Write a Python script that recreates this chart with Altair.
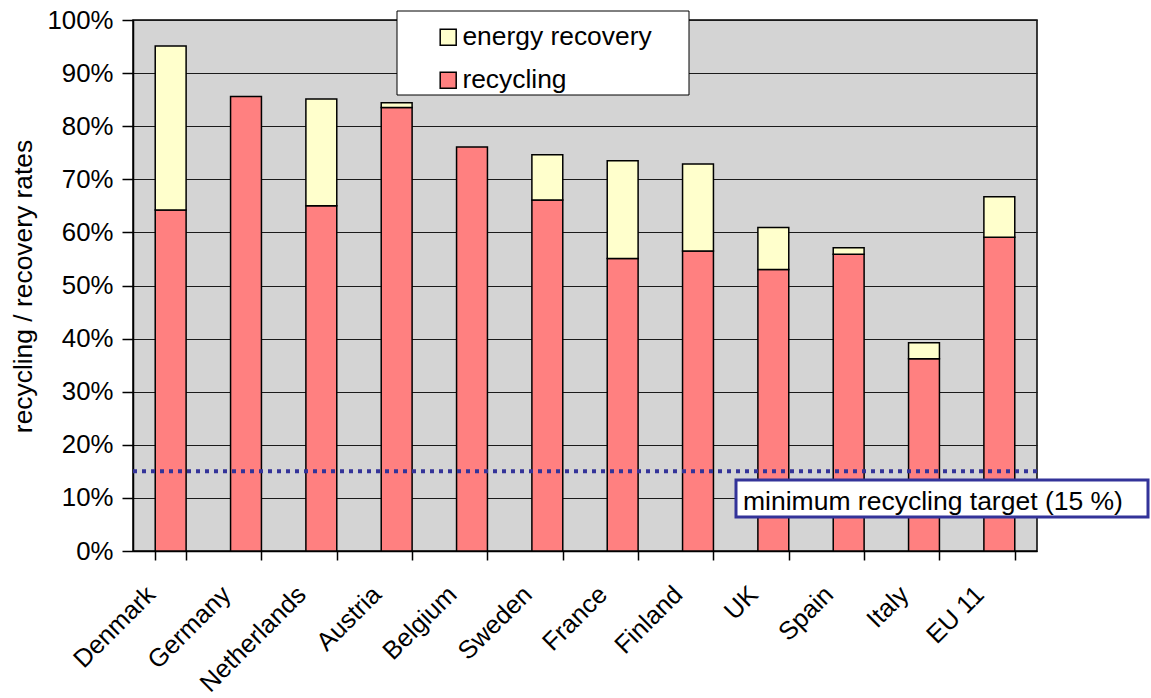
import altair as alt
import pandas as pd

# Packaging recovery shares by country, in percent
countries = ["Denmark", "Germany", "Netherlands", "Austria", "Belgium", "Sweden",
             "France", "Finland", "UK", "Spain", "Italy", "EU 11"]
recycling = [64.2, 85.6, 65.0, 83.5, 76.1, 66.1, 55.1, 56.5, 53.0, 55.9, 36.2, 59.1]
energy_recovery = [30.9, 0.0, 20.1, 0.9, 0.0, 8.5, 18.4, 16.4, 7.9, 1.2, 3.0, 7.6]
series = ["energy recovery", "recycling"]
series_colors = ["#ffffcc", "#ff8080"]
target = [15]
target_label = "minimum recycling target (15 %)"
y_ticks = list(range(0, 101, 10))

rows = []
for c, r, e in zip(countries, recycling, energy_recovery):
    rows.append({"country": c, "type": "recycling", "rate": r, "ord": 0})
    if e > 0:
        rows.append({"country": c, "type": "energy recovery", "rate": e, "ord": 1})
df = pd.DataFrame(rows)

FONT = "Liberation Sans"
W, H = 904, 531

bars = alt.Chart(df).mark_bar(stroke="black", strokeWidth=1.5).encode(
    x=alt.X(
        "country:N", sort=countries, title=None,
        scale=alt.Scale(paddingInner=0.59, paddingOuter=0.295),
        axis=alt.Axis(
            labelAngle=315, labelAlign="right", labelBaseline="middle",
            labelFontSize=25.5, labelColor="black", labelPadding=30, labelOffset=-20,
            tickBand="extent", tickSize=9, tickColor="black", tickWidth=1.5,
            domainColor="black", domainWidth=1.5, grid=False,
        ),
    ),
    y=alt.Y(
        "rate:Q", stack="zero",
        scale=alt.Scale(domain=[0, 100], nice=False),
        axis=alt.Axis(
            values=y_ticks, labelExpr="datum.value + '%'",
            labelFontSize=25.8, labelColor="black", labelPadding=9,
            tickSize=11, tickColor="black", tickWidth=1.5,
            domainColor="black", domainWidth=1.5,
            grid=True, gridColor="#1a1a1a", gridWidth=1,
            title="recycling / recovery rates", titleFontSize=26.4,
            titleFontWeight="normal", titleColor="black",
            titleX=-110, titleY=266, titleAngle=270,
            titleAlign="center", titleBaseline="middle",
        ),
    ),
    color=alt.Color(
        "type:N",
        scale=alt.Scale(domain=series, range=series_colors),
        legend=alt.Legend(
            title=None, orient="none", legendX=302, legendY=4, padding=0,
            symbolType="square", symbolSize=256, symbolStrokeColor="black",
            symbolStrokeWidth=1.5, labelFontSize=26.4, labelColor="black",
            labelOffset=1, rowPadding=16, labelLimit=400, zindex=1,
        ),
    ),
    order=alt.Order("ord:Q"),
)

target_df = pd.DataFrame({"target": target, "label": [target_label]})

target_line = alt.Chart(target_df).mark_rule(
    color="#333399", strokeWidth=4, strokeDash=[4, 5]
).encode(y="target:Q")

legend_frame = alt.Chart(target_df).mark_rect(
    fill="white", stroke="black", strokeWidth=1
).encode(x=alt.value(264), x2=alt.value(556), y=alt.value(-9), y2=alt.value(75))

note_fill = alt.Chart(target_df).mark_rect(fill="white").encode(
    x=alt.value(603), x2=alt.value(1015), y=alt.value(460), y2=alt.value(497)
)
note_text = alt.Chart(target_df).mark_text(
    align="left", baseline="alphabetic", fontSize=26.5, font=FONT, color="black"
).encode(x=alt.value(610), y=alt.value(490), text="label:N")
note_frame = alt.Chart(target_df).mark_rect(
    fill="transparent", stroke="#333399", strokeWidth=3
).encode(x=alt.value(603), x2=alt.value(1015), y=alt.value(460), y2=alt.value(497))

chart = alt.layer(
    bars, target_line, legend_frame, note_fill, note_text, note_frame
).properties(
    width=W, height=H,
    autosize=alt.AutoSizeParams(type="none"),
    padding={"left": 133, "top": 20, "right": 114, "bottom": 147},
).configure(font=FONT).configure_view(
    fill="#d4d4d4", stroke="black", strokeWidth=1.5
)

chart.save("out.html", embed_options={"renderer": "svg", "actions": False})
